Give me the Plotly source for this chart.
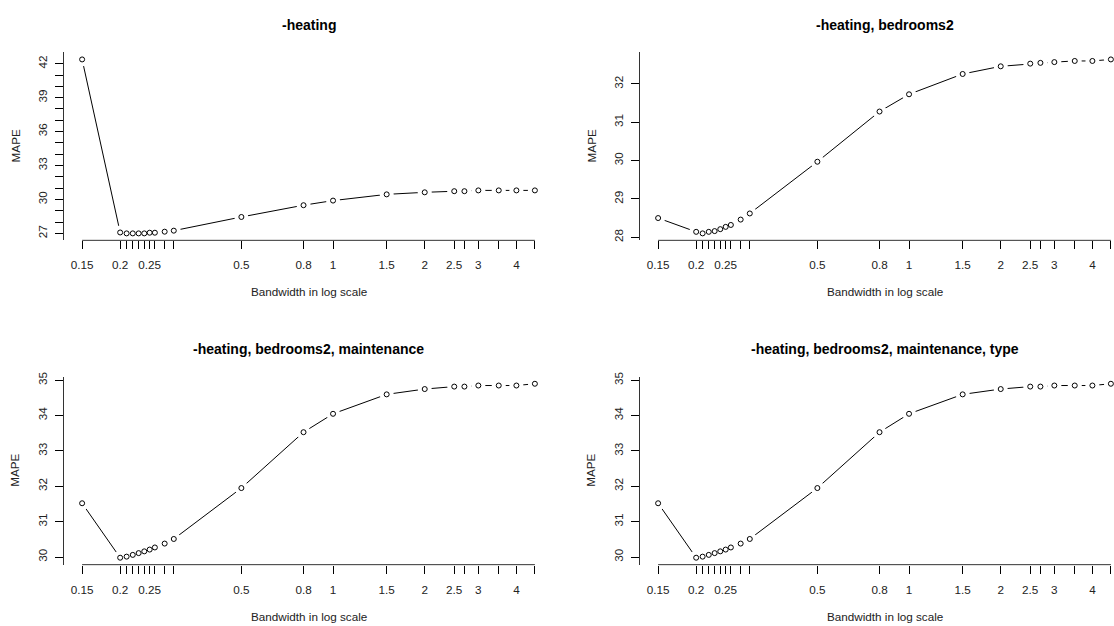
import math
import plotly.graph_objects as go

# ---------------- data ----------------
bandwidth = [0.15, 0.2, 0.21, 0.22, 0.23, 0.24, 0.25, 0.26, 0.28, 0.3,
             0.5, 0.8, 1, 1.5, 2, 2.5, 2.7, 3, 3.5, 4, 4.6]
bandwidth_labels = ["0.15", "0.2", "", "", "", "", "0.25", "", "", "",
                    "0.5", "0.8", "1", "1.5", "2", "2.5", "", "3", "", "4", ""]

mape_heating = [42.38, 27.08, 27.0, 27.0, 27.0, 27.0, 27.06, 27.06, 27.15, 27.24,
                28.45, 29.49, 29.90, 30.45, 30.63, 30.73, 30.73, 30.80, 30.80, 30.80, 30.80]
mape_bedrooms2 = [28.50, 28.14, 28.10, 28.14, 28.16, 28.21, 28.27, 28.32, 28.46, 28.62,
                  29.97, 31.28, 31.73, 32.26, 32.46, 32.53, 32.55, 32.57, 32.60, 32.60, 32.64]
mape_maintenance = [31.52, 29.98, 30.01, 30.06, 30.11, 30.16, 30.21, 30.27, 30.38, 30.51,
                    31.95, 33.53, 34.05, 34.60, 34.75, 34.82, 34.82, 34.85, 34.85, 34.85, 34.90]
mape_type = [31.52, 29.98, 30.01, 30.06, 30.11, 30.16, 30.21, 30.27, 30.38, 30.51,
             31.95, 33.53, 34.05, 34.60, 34.75, 34.82, 34.82, 34.85, 34.85, 34.85, 34.90]

titles = ["-heating", "-heating, bedrooms2",
          "-heating, bedrooms2, maintenance", "-heating, bedrooms2, maintenance, type"]
series = [mape_heating, mape_bedrooms2, mape_maintenance, mape_type]

ytick_vals = [list(range(27, 43)), list(range(28, 33)), list(range(30, 36)), list(range(30, 36))]
ytick_labels = [[str(v) if (v - 27) % 3 == 0 else "" for v in ytick_vals[0]],
                [str(v) for v in ytick_vals[1]],
                [str(v) for v in ytick_vals[2]],
                [str(v) for v in ytick_vals[3]]]

x_title = "Bandwidth in log scale"
y_title = "MAPE"

# ---------------- layout geometry ----------------
W, H = 1114, 626
FONT = "Liberation Sans, Arial, sans-serif"
panel_left = [64, 640, 64, 640]
panel_top = [48, 48, 376, 376]
panel_w = 489
panel_h = 190

lx0 = math.log10(bandwidth[0])
lx1 = math.log10(bandwidth[-1])
span = lx1 - lx0
full_lo = lx0 - 0.04 * span
full_hi = lx1 + 0.04 * span

fig = go.Figure()
layout = dict(
    width=W, height=H,
    margin=dict(l=0, r=0, t=0, b=0),
    paper_bgcolor="white", plot_bgcolor="white",
    showlegend=False,
    font=dict(family=FONT, size=12, color="black"),
)
annotations = []
shapes = []

for i in range(4):
    n = "" if i == 0 else str(i + 1)
    xa, ya = "x" + n, "y" + n
    left = panel_left[i]
    right = min(left + panel_w, W)
    vis_frac = (right - left) / panel_w
    x_range = [full_lo, full_lo + (full_hi - full_lo) * vis_frac]
    ys = series[i]
    ymin, ymax = min(ys), max(ys)
    yr = [ymin - 0.04 * (ymax - ymin), ymax + 0.04 * (ymax - ymin)]
    top = panel_top[i]
    bottom = top + panel_h

    layout["xaxis" + n] = dict(
        type="log", domain=[left / W, right / W], range=x_range, anchor=ya,
        tickmode="array", tickvals=bandwidth, ticktext=bandwidth_labels,
        ticks="outside", ticklen=8, tickwidth=1, tickcolor="black",
        showline=False, showgrid=False, zeroline=False,
        tickfont=dict(family=FONT, size=11.7, color="#222"),
        ticklabelstandoff=6, fixedrange=True,
    )
    layout["yaxis" + n] = dict(
        domain=[1 - bottom / H, 1 - top / H], range=yr, anchor=xa,
        tickmode="array", tickvals=ytick_vals[i], ticktext=ytick_labels[i],
        ticks="outside", ticklen=8, tickwidth=1, tickcolor="black",
        showline=True, linecolor="#333", linewidth=1,
        showgrid=False, zeroline=False, tickangle=-90,
        tickfont=dict(family=FONT, size=11.7, color="#222"),
        ticklabelstandoff=3, fixedrange=True,
    )

    # x axis line spans first to last tick (R style)
    shapes.append(dict(type="line", xref=xa, yref=ya + " domain",
                       x0=bandwidth[0], x1=bandwidth[-1], y0=0, y1=0,
                       line=dict(color="#333", width=1), layer="above"))

    # line, white gap masks, then open circles (R type="b")
    fig.add_trace(go.Scatter(x=bandwidth, y=ys, xaxis=xa, yaxis=ya, mode="lines",
                             line=dict(color="black", width=1), hoverinfo="skip"))
    fig.add_trace(go.Scatter(x=bandwidth, y=ys, xaxis=xa, yaxis=ya, mode="markers",
                             marker=dict(symbol="circle", size=14, color="white",
                                         line=dict(width=0)),
                             hoverinfo="skip", cliponaxis=False))
    fig.add_trace(go.Scatter(x=bandwidth, y=ys, xaxis=xa, yaxis=ya, mode="markers",
                             marker=dict(symbol="circle-open", size=5, color="black",
                                         line=dict(width=1, color="black")),
                             cliponaxis=False))

    cx = (left + panel_w / 2) / W
    annotations.append(dict(text="<b>" + titles[i] + "</b>", x=cx, y=1 - (top - 28) / H,
                            xref="paper", yref="paper", showarrow=False,
                            xanchor="center", yanchor="middle",
                            font=dict(family=FONT, size=14, color="black")))
    annotations.append(dict(text=x_title, x=cx, y=1 - (bottom + 52) / H,
                            xref="paper", yref="paper", showarrow=False,
                            xanchor="center", yanchor="middle",
                            font=dict(family=FONT, size=11.7, color="#222")))
    annotations.append(dict(text=y_title, x=(left - 49) / W, y=1 - (top + panel_h / 2) / H,
                            xref="paper", yref="paper", showarrow=False, textangle=-90,
                            xanchor="center", yanchor="middle",
                            font=dict(family=FONT, size=11.7, color="#222")))

layout["annotations"] = annotations
layout["shapes"] = shapes
fig.update_layout(**layout)
fig.write_html("out.html")
